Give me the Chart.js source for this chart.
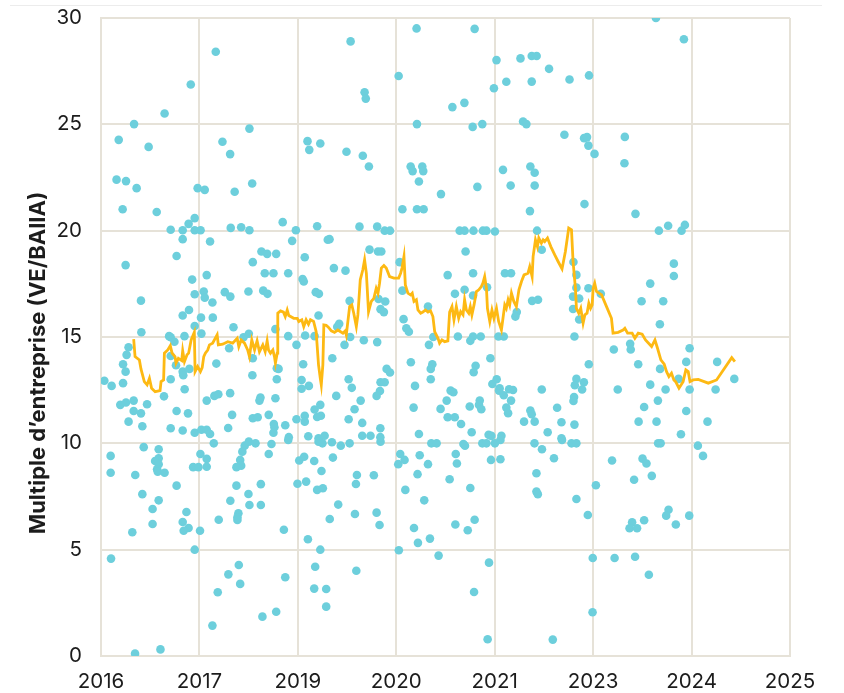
<!DOCTYPE html>
<html>
<head>
<meta charset="utf-8">
<script src="https://cdn.jsdelivr.net/npm/chart.js@4.4.1/dist/chart.umd.min.js"></script>
<style>
  html, body { margin: 0; padding: 0; background: #ffffff; }
  #wrap { position: relative; width: 844px; height: 693px; }
  #topRule { position: absolute; left: 10px; top: 5px; width: 812px; height: 1px; background: #ececec; }
  canvas { position: absolute; left: 0; top: 0; }
</style>
</head>
<body>
<div id="wrap">
  <div id="topRule"></div>
  <canvas id="c" width="844" height="693"></canvas>
</div>
<script>
// ---- Data (x = Excel date serial, y = EV/EBITDA multiple) ----
const xTickValues = [42500, 43000, 43500, 44000, 44500, 45000, 45500, 46000];
const yTickValues = [0, 5, 10, 15, 20, 25, 30];
const yAxisTitle = "Multiple d’entreprise (VE/BAIIA)";

const scatterX = [
  43083,42956,42823,42668,43254,42590,42742,43117,43156,43549,43614,43558,42579,42627,42681,42991,43027,43179,43268,42610,
  42783,42976,42945,43423,43598,42854,42915,42976,43006,43159,43212,43254,43490,
  43768,43839,43845,44012,44103,44398,44285,44346,44496,44509,44559,44631,44688,44713,44688,44776,44105,44388,44437,44644,
  44661,43747,43830,43861,44073,44083,44132,44137,44115,44227,44412,44031,44105,44139,44542,44581,44681,44703,44703,44679,
  43813,43903,43941,43968,44322,44347,44392,44440,44458,44501,44715,
  45319,45461,44880,44979,44854,44954,44969,44976,45007,45161,45159,44956,45215,45334,45381,45449,45466,
  42915,43054,43471,43652,43661,42884,42625,43315,43344,43390,43535,43271,43037,42963,43332,43376,43451,43524,43530,42703,
  42976,43022,43027,43066,43129,43157,43249,43324,43346,43591,43607,42947,42915,43008,43068,43605,42705,42976,43010,43173,
  43386,42846,42854,42873,42924,43224,43251,43451,43537,43585,43493,42640,42630,42612,42625,42517,42554,42612,42854,42881,
  42915,42918,42949,43086,43151,43271,43393,43402,43527,43269,43393,42854,42925,42820,43519,43519,43556,42666,42598,42627,
  42734,42666,42703,42640,42710,43037,43076,43096,43156,43305,43310,43386,43614,43585,43598,43617,42884,42942,43166,43271,
  43296,43352,43378,43381,43376,43436,43493,43535,43535,42854,42915,42976,43010,43037,43054,43146,43454,43553,43605,43636,
  42717,42793,43073,43230,43251,43285,43366,43451,43605,43625,
  42549,42549,42674,42793,42775,42793,42785,42788,42823,42884,42710,42793,42762,42762,42659,42934,42915,42945,42920,43003,
  42976,42551,42673,42802,43005,43037,43037,42968,42995,43218,43207,43212,43188,43352,43188,43312,43249,43157,43254,43312,
  43198,43193,43193,43098,43429,43200,43147,43207,43093,43436,43066,43320,43390,43507,43532,43583,43620,43498,43542,43598,
  43627,43662,43551,43614,43588,43583,43644,43644,
  43673,43718,43763,43920,44178,44205,44341,44349,44437,44458,44501,44529,44702,44740,44801,
  43678,43800,43795,43886,43705,43790,43900,43915,43797,44020,44010,44042,44119,44161,44108,44046,44142,44090,44110,44171,
  44013,44215,44302,44308,44271,44376,44300,44398,44363,44481,44529,44471,44395,44464,44712,44712,44719,44795,
  44842,44890,44915,45330,45343,45532,45558,45096,45251,45271,45298,45208,45014,44915,44973,45198,45185,45223,45259,45383,
  45371,45420,45488,44998,45109,45213,45283,44997,
  43864,43907,43924,44352,44739,43683,43742,44017,44261,44390,44552,44583,44031,44298,44347,44390,44461,43763,43910,43920,
  43937,43944,44690,44720,44612,44605,44161,44037,44051,44064,43710,43700,43766,43737,43835,43903,44188,44166,44313,44390,
  44376,44429,44519,44546,43675,43758,43774,43695,43951,43968,43920,43941,43917,43900,43819,43788,43758,43827,43919,43827,
  43869,43919,44074,44183,44175,44175,44095,44088,44276,44290,44256,44225,44261,44297,44329,44115,44403,44393,44478,44373,
  44424,44420,44432,44488,44510,44525,44522,44546,44573,44593,44583,44559,44568,44383,44469,44483,44534,44649,44681,44688,
  44703,44739,44817,44769,
  45410,45410,45290,45246,45356,45339,44900,44915,44915,44898,44929,44898,44929,44976,45039,44905,45105,45188,45191,45229,
  45490,45473,45630,45717,45340,44978,44915,44907,44953,44944,44903,44900,44839,44905,44839,45125,45290,45368,45434,45490,
  45622,45329,45259,45473,45231,45322,45581,45446
];
const scatterY = [
  28.41,26.87,25.51,25.01,24.80,24.27,23.94,24.18,23.60,24.21,24.10,23.80,22.40,22.33,22.00,22.00,21.92,21.83,22.22,21.01,
  20.88,20.59,20.32,20.40,20.21,20.04,20.02,20.02,20.02,20.13,20.16,20.02,20.02,
  28.90,26.51,26.21,27.27,29.51,29.49,25.81,26.01,26.70,28.02,27.00,28.10,28.21,28.21,27.01,27.61,25.01,24.88,25.01,25.13,
  25.01,23.71,23.52,23.02,23.02,22.80,23.02,22.80,22.31,21.72,22.06,21.01,21.01,21.01,22.86,22.12,23.02,22.72,22.12,20.92,
  20.19,20.19,20.00,20.00,20.00,20.00,20.00,20.00,20.00,19.96,20.00,
  30.00,29.00,27.11,27.30,24.51,24.35,24.40,24.00,23.61,24.41,23.17,21.25,20.79,20.00,20.23,20.00,20.27,
  19.60,19.49,19.52,19.57,19.60,18.81,18.38,19.02,18.91,18.91,18.75,18.52,17.91,17.70,18.00,18.00,18.00,17.73,17.61,16.71,
  17.01,17.14,16.85,16.62,17.11,16.90,17.14,17.18,17.03,17.11,17.03,16.27,16.01,15.91,15.91,16.01,15.22,15.52,15.16,15.46,
  15.37,15.04,14.99,14.78,15.04,14.99,15.15,15.04,15.07,15.04,14.63,14.52,14.16,13.72,13.37,12.94,12.70,12.83,14.11,13.67,
  13.37,13.20,13.50,13.75,14.47,14.00,13.53,13.50,13.72,13.20,13.01,13.01,12.54,12.21,12.98,12.57,12.70,12.01,11.81,11.92,
  11.84,11.52,11.41,11.02,10.80,12.01,12.23,12.31,12.36,12.01,12.15,12.12,11.81,11.59,11.24,11.30,11.52,11.41,11.34,11.18,
  11.23,11.34,10.91,10.76,10.50,10.85,11.13,11.30,11.02,10.71,10.60,10.50,10.64,10.64,10.44,10.72,10.29,10.33,10.24,10.36,
  9.82,9.72,10.00,9.89,10.08,10.00,9.97,10.16,10.08,10.00,
  9.41,8.62,8.51,9.30,9.17,9.02,8.78,8.67,8.62,8.01,7.61,7.32,6.91,6.21,5.82,6.77,6.30,6.02,5.89,5.89,
  5.00,4.58,0.11,0.31,9.50,9.27,8.90,8.88,8.88,9.61,9.22,8.95,8.88,9.50,8.01,8.08,7.62,7.30,7.10,7.10,
  6.71,6.52,6.40,6.41,5.94,4.28,3.84,3.39,3.00,3.70,1.43,1.85,2.08,9.19,9.37,9.17,8.70,8.10,8.20,7.81,
  7.89,6.44,5.49,5.00,4.20,3.17,3.15,2.32,
  10.05,9.89,10.00,10.08,10.00,10.00,9.97,9.89,10.00,10.00,10.00,10.16,10.00,9.72,9.30,
  9.33,8.51,8.09,8.50,7.12,6.68,6.74,6.16,4.01,9.50,9.02,9.22,9.44,9.02,8.55,7.81,7.32,6.02,5.32,5.52,
  4.97,4.72,9.50,9.05,8.31,7.90,6.18,6.41,5.91,9.22,9.25,4.39,3.01,0.79,8.59,7.73,7.61,0.77,
  10.16,10.00,10.00,10.00,10.00,9.89,9.41,9.19,9.28,9.05,8.47,8.29,8.03,7.38,6.63,6.29,6.01,6.01,6.38,6.88,
  6.60,6.18,6.60,4.61,4.61,4.67,3.82,2.06,
  19.11,19.02,19.02,19.02,19.10,18.24,18.12,18.52,17.91,18.00,18.00,18.00,17.18,17.03,17.22,16.95,17.34,16.70,16.79,16.31,
  16.17,16.67,16.70,16.75,16.17,15.96,16.43,15.84,15.41,15.25,15.62,15.48,15.00,14.63,14.85,14.76,15.00,14.63,15.02,15.02,
  14.82,15.02,15.02,15.02,14.00,13.01,12.61,12.23,13.50,13.33,12.87,12.87,12.46,12.23,12.01,11.60,11.13,10.96,10.71,10.36,
  10.36,10.29,13.81,13.72,13.50,13.01,12.70,11.68,12.48,12.40,12.01,11.62,11.23,11.23,10.91,10.44,13.65,13.34,14.00,11.73,
  12.01,11.81,11.60,12.79,13.01,12.59,12.48,12.26,12.54,12.51,12.01,11.68,11.42,10.52,10.40,10.35,10.36,11.02,11.54,11.37,
  11.02,12.53,11.67,10.52,
  18.45,17.87,17.51,16.68,16.68,15.60,18.53,17.92,17.32,16.90,16.81,16.32,15.82,17.29,17.03,15.02,14.41,14.68,14.41,13.72,
  14.47,13.83,13.83,13.03,13.50,13.72,13.03,12.73,12.87,12.53,12.18,11.99,10.99,10.88,10.24,12.53,12.76,12.53,13.03,12.53,
  12.53,12.01,11.71,11.52,11.02,11.02,11.02,10.43
];

// Rolling median line
const lineX = [
  42666,42673,42695,42703,42720,42734,42746,42757,42775,42800,42805,42818,42822,42839,42852,42861,42876,42881,42893,42910,
  42915,42924,42937,42945,42958,42974,42978,42991,43005,43014,43022,43030,43042,43051,43067,43090,43096,43118,43144,43169,
  43192,43200,43212,43229,43245,43254,43266,43280,43293,43305,43322,43334,43344,43351,43361,43373,43381,43386,43395,43398,
  43412,43427,43436,43446,43454,43479,43497,43505,43520,43530,43542,43554,43564,43580,43593,43605,43614,43619,43627,43632,
  43644,43656,43670,43686,43703,43729,43741,43746,43763,43774,43784,43797,43805,43817,43830,43839,43848,43859,43873,43886,
  43898,43907,43915,43924,43937,43949,43966,43988,44012,44022,44029,44039,44046,44059,44073,44081,44090,44102,44110,44124,
  44135,44148,44161,44174,44186,44195,44212,44220,44232,44246,44262,44271,44283,44293,44305,44317,44327,44339,44347,44356,
  44368,44376,44384,44395,44407,44419,44432,44440,44449,44458,44463,44475,44486,44496,44509,44520,44534,44542,44551,44559,
  44568,44576,44585,44597,44610,44623,44636,44649,44669,44678,44690,44695,44707,44717,44724,44737,44746,44754,44768,44785,
  44805,44822,44842,44859,44876,44890,44898,44910,44915,44927,44937,44949,44958,44969,44978,44987,44995,45000,45008,45017,
  45043,45068,45093,45101,45127,45152,45161,45175,45198,45212,45229,45249,45266,45297,45314,45327,45344,45361,45373,45385,
  45398,45410,45419,45436,45457,45471,45483,45492,45508,45534,45585,45627,45704,45720
];
const lineY = [
  14.90,14.08,13.92,13.50,12.90,12.75,13.06,12.59,12.43,12.48,12.90,12.98,14.24,14.39,14.59,14.24,14.08,13.77,14.00,13.89,
  14.35,13.84,14.16,14.24,14.86,15.22,13.37,13.61,13.37,13.56,14.08,14.24,14.39,14.63,14.71,15.10,14.63,14.66,14.78,14.71,
  14.94,14.55,14.86,14.71,14.39,14.08,14.86,14.39,14.82,14.31,14.63,14.31,14.82,14.39,14.24,14.39,14.08,13.77,14.24,16.12,
  16.23,16.17,15.96,16.27,16.01,15.88,15.88,15.73,15.81,15.49,15.81,15.60,15.81,15.73,15.25,13.69,13.06,12.75,13.69,15.57,
  15.55,15.45,15.29,15.22,15.33,15.18,15.29,15.10,16.43,16.51,16.12,15.49,16.04,17.69,18.16,18.63,18.00,16.19,16.67,16.82,
  17.29,17.06,17.53,18.24,18.36,18.24,17.84,17.77,17.77,18.00,18.24,18.78,17.45,17.06,16.98,17.06,16.67,16.75,16.27,16.12,
  16.17,16.27,16.17,16.23,15.96,15.25,14.94,14.71,14.86,14.78,14.82,16.17,16.43,15.81,16.43,15.88,16.19,16.04,16.75,16.27,
  16.12,16.43,16.04,16.51,17.14,17.22,17.37,17.53,17.84,17.29,16.35,15.73,16.27,15.88,16.35,15.73,15.33,15.88,16.51,16.35,
  16.75,16.51,17.06,16.67,16.43,17.22,17.61,17.92,18.00,18.31,17.84,18.78,19.57,19.25,19.65,19.41,19.57,19.49,19.65,19.25,
  18.86,18.55,18.20,19.02,20.12,20.04,18.55,17.29,16.35,16.12,16.35,15.65,16.04,16.12,16.59,16.35,16.51,17.29,17.53,17.14,
  16.98,16.43,15.88,15.18,15.22,15.33,15.41,15.18,15.18,14.94,15.18,15.13,14.86,14.55,14.86,14.47,13.92,13.72,13.37,13.14,
  13.30,12.98,12.90,12.59,12.90,13.45,13.37,12.90,12.98,13.01,12.83,12.98,14.03,13.84
];

// ---- Helpers ----
function serialToYear(serial) {
  const d = new Date(Math.round((serial - 25569) * 86400000));
  return String(d.getUTCFullYear());
}

const FONT = 'Inter, "Noto Sans", "DejaVu Sans", sans-serif';
const GRID = '#e6e2d8';
const TEXT = '#1c1c1c';

const scatterPts = scatterX.map((x, i) => ({ x: x, y: scatterY[i] }));
const linePts = lineX.map((x, i) => ({ x: x, y: lineY[i] }));

new Chart(document.getElementById('c'), {
  data: {
    datasets: [
      {
        type: 'line',
        label: 'Médiane',
        data: linePts,
        borderColor: '#FDB913',
        borderWidth: 2.8,
        pointRadius: 0,
        tension: 0,
        fill: false,
        order: 0
      },
      {
        type: 'scatter',
        label: 'Transactions',
        data: scatterPts,
        backgroundColor: '#6dcfdc',
        borderWidth: 0,
        pointRadius: 4.3,
        order: 1
      }
    ]
  },
  options: {
    responsive: false,
    animation: false,
    devicePixelRatio: 1,
    layout: { padding: { top: 18, right: 54, left: 0, bottom: 0 } },
    plugins: { legend: { display: false }, tooltip: { enabled: false } },
    scales: {
      x: {
        type: 'linear',
        min: xTickValues[0],
        max: xTickValues[xTickValues.length - 1],
        afterBuildTicks: (axis) => { axis.ticks = xTickValues.map(v => ({ value: v })); },
        afterFit: (scale) => { scale.height = 37; },
        grid: { color: GRID, lineWidth: 2, drawTicks: false },
        border: { color: GRID, width: 2 },
        ticks: {
          callback: (v) => serialToYear(v),
          font: { family: FONT, size: 20.5 },
          color: TEXT,
          padding: 14,
          maxRotation: 0,
          autoSkip: false
        }
      },
      y: {
        type: 'linear',
        min: yTickValues[0],
        max: yTickValues[yTickValues.length - 1],
        afterBuildTicks: (axis) => { axis.ticks = yTickValues.map(v => ({ value: v })); },
        afterFit: (scale) => {
          scale.width = 101;
          scale.paddingTop = 0;
          scale.paddingBottom = 0;
        },
        grid: { color: GRID, lineWidth: 2, drawTicks: false },
        border: { color: GRID, width: 2 },
        ticks: {
          font: { family: FONT, size: 20.5 },
          color: TEXT,
          padding: 19
        },
        title: {
          display: true,
          text: yAxisTitle + '\u00A0'.repeat(10),
          font: { family: FONT, size: 22, weight: 'bold' },
          color: TEXT,
          padding: { top: 25, bottom: 0 }
        }
      }
    }
  }
});
</script>
</body>
</html>
